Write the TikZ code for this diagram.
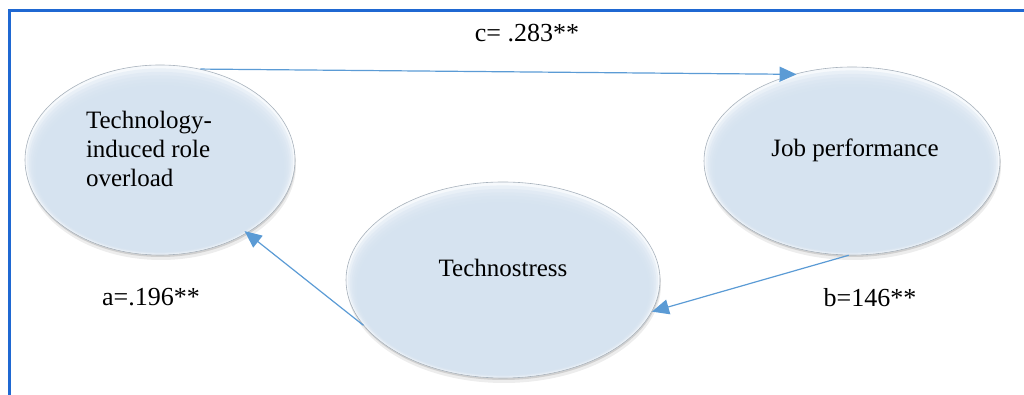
\documentclass[tikz,border=0pt]{standalone}
\usepackage{fontspec}
\setmainfont{Liberation Serif}
\usetikzlibrary{arrows.meta,shapes.geometric,shadows,calc}
\definecolor{ellbase}{HTML}{D6E3F0}
\definecolor{ellhi}{HTML}{F6F9FC}
\definecolor{framec}{HTML}{1F68D2}
\definecolor{arrc}{HTML}{5B9BD5}
\definecolor{rimc}{HTML}{A8B2BC}
\tikzset{
  ell/.style={ellipse, draw=rimc, line width=0.6pt, fill=ellhi, inner sep=0pt,
    general shadow={shadow yshift=-2pt, shadow xshift=0.5pt, fill=black, opacity=0.12},
    general shadow={shadow yshift=-5pt, shadow xshift=1pt, fill=black, opacity=0.07}},
  glow/.style={fill=ellbase, fill opacity=0.4},
  etext/.style={font=\fontsize{25}{29}\selectfont, text=black, inner sep=0pt},
  coef/.style={font=\fontsize{26}{30}\selectfont, text=black, inner sep=0pt},
  conn/.style={draw=arrc, line width=1.2pt, -{Triangle[length=17pt,width=15pt]}},
  framel/.style={draw=framec, line width=2.5pt}
}
\begin{document}
\begin{tikzpicture}[x=1pt,y=1pt]
\useasboundingbox (0,0) rectangle (1024,395);
% frame
\coordinate (f1) at (9.5,0);
\coordinate (f2) at (9.5,384.5);
\coordinate (f3) at (1024,384.5);
\draw[framel] (f1) -- (f2) -- (f3);
% ellipses
\node[ell, minimum width=270pt, minimum height=190pt] (L) at (160,235) {};
\node[ell, minimum width=296pt, minimum height=188pt] (R) at (852,234) {};
\node[ell, minimum width=314pt, minimum height=196pt] (M) at (503,115) {};
\foreach \n/\rx/\ry in {L/135/95, R/148/94, M/157/98}{
  \foreach \k in {1,...,6}{
    \pgfmathsetmacro\f{\k/6}
    \fill[glow] ($(\n.center)+(0,-8.5*\f)$) ellipse [x radius={\rx-11*\f}, y radius={\ry-12*\f}];
  }
}
% texts
\node[etext, align=left] (Lt) at (149,246) {Technology-\\induced role\\overload};
\node[etext] (Rt) at (855,245) {Job performance};
\node[etext] (Mt) at (503,127) {Technostress};
% coefficients
\node[coef] (c) at (527,362) {c= .283**};
\node[coef] (a) at (151,98) {a=.196**};
\node[coef] (b) at (870,97) {b=146**};
% connectors
\draw[conn, shorten >=-3pt] (L.66) -- (R.124.6);
\draw[conn, shorten >=-3pt] (M.198) -- (L.-40.6);
\draw[conn] (R.268) -- (M.-12.7);
\end{tikzpicture}
\end{document}
